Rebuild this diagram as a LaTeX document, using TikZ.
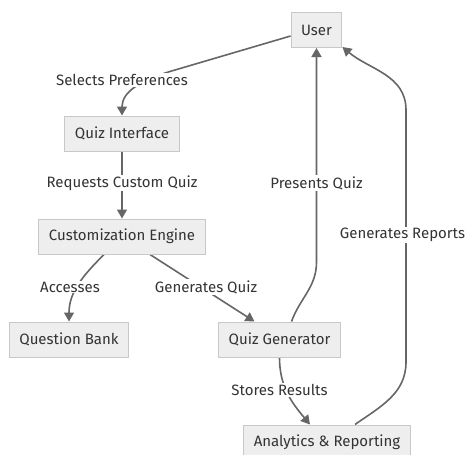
\documentclass[tikz,border=0pt]{standalone}
\usepackage{fontspec}
\setmainfont{Fira Sans}
\usetikzlibrary{arrows.meta,backgrounds,calc}
\definecolor{boxfill}{HTML}{EEEEEE}
\definecolor{boxline}{HTML}{C8C8C8}
\definecolor{flowline}{HTML}{666666}
\definecolor{txt}{HTML}{333333}
\tikzset{%
  >={Triangle[width=10pt,length=9pt]},
  % Specifications for style of nodes:
            base/.style = {rectangle, draw=boxline, fill=boxfill, line width=1pt,
                           minimum height=35pt, inner xsep=10pt,
                           text centered, text=txt, font=\fontsize{15}{18}\selectfont},
            lbl/.style  = {fill=white, inner sep=1pt, text=txt,
                           font=\fontsize{15}{18}\selectfont},
            flow/.style = {->, draw=flowline, line width=1.6pt}
                           }

\begin{document}
\begin{tikzpicture}[x=1pt, y=-1pt, node distance=103pt]
                    \useasboundingbox (0,0) rectangle (467,455);
                    \node (user)    [base] at (316.5,30)           {User};
                    \node (qi)      [base] at (122,133.5)          {Quiz Interface};
                    \node (ce)      [base, below of=qi]            {Customization Engine};
                    \node (qb)      [base, below of=ce, xshift=-53pt]  {Question Bank};
                    \node (qg)      [base, below of=ce, xshift=157.5pt] {Quiz Generator};
                    \node (ar)      [base, below of=qg, xshift=47.5pt]  {Analytics \& Reporting};

                    \node (lsel)    [lbl] at (122,80)    {Selects Preferences};
                    \node (lreq)    [lbl] at (122,183)   {Requests Custom Quiz};
                    \node (lpres)   [lbl] at (316.5,183) {Presents Quiz};
                    \node (lrep)    [lbl] at (402.5,235) {Generates Reports};
                    \node (lacc)    [lbl] at (70,287)    {Accesses};
                    \node (lgen)    [lbl] at (206,287)   {Generates Quiz};
                    \node (lsto)    [lbl] at (279.5,390) {Stores Results};

                    \begin{scope}[on background layer]
                    \draw[flow]  ([yshift=-6pt]user.west) -- (175,70)
                                 .. controls (140,80) and (122,92) .. (qi.north);
                    \draw[flow]  (qi) -- (ce);
                    \draw[flow]  ([xshift=-18pt]ce.south) to[out=-135, in=90] (qb.north);
                    \draw[flow]  ([xshift=28pt]ce.south) -- ([xshift=-25pt]qg.north);
                    \draw[flow]  ([xshift=12pt]qg.north) to[out=70, in=-90] (user.south |- 0,262) -- (user.south);
                    \draw[flow]  ([xshift=28pt]ar.north) to[out=35, in=-90] (406,362) -- (406,110)
                                 to[out=90, in=-40] ([yshift=1pt]user.south east);
                    \draw[flow]  (qg.south) to[out=-90, in=130] ([xshift=-17pt]ar.north);
                    \end{scope}
                \end{tikzpicture}
\end{document}
